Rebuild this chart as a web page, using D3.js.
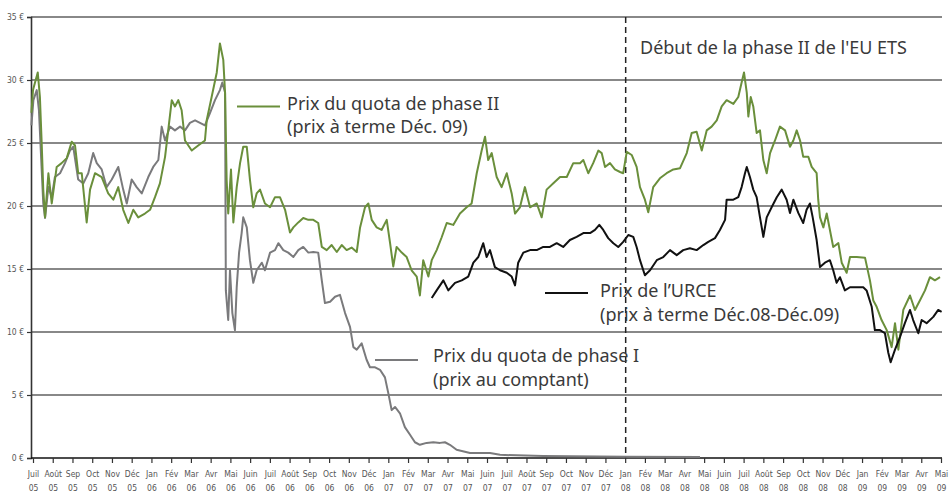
<!DOCTYPE html>
<html>
<head>
<meta charset="utf-8">
<script src="https://cdn.jsdelivr.net/npm/d3@7"></script>
<style>
  body { margin: 0; background: #fff; }
  .tick-label { font-family: "DejaVu Sans Condensed", "Liberation Sans Narrow", sans-serif; font-stretch: condensed; font-size: 8.5px; fill: #555; }
  .note { font-family: "Noto Sans", "Open Sans", sans-serif; font-size: 18px; fill: #3a3a3a; }
</style>
</head>
<body>
<div id="chart"></div>
<script>
// month labels, starting in July 2005 (x values below are months since 1 July 2005)
const monthNames = ['Juil', 'Août', 'Sep', 'Oct', 'Nov', 'Déc', 'Jan', 'Fév', 'Mar', 'Avr', 'Mai', 'Juin'];
const yearLabels = ['05', '06', '07', '08', '09'];
const priceTicks = [0, 5, 10, 15, 20, 25, 30, 35];

// Phase II allowance, Dec. 09 forward: [month, €]
const phase2 = [
  [-0.08, 27.4], [0, 29.2], [0.24, 30.6], [0.35, 28.65], [0.44, 25.0], [0.52, 21.3], [0.61, 19.1],
  [0.78, 22.6], [0.95, 20.2], [1.2, 23.1], [1.45, 23.4], [1.71, 23.8], [1.96, 25.1], [2.13, 24.8],
  [2.29, 22.6], [2.47, 22.6], [2.72, 18.7], [2.89, 21.3], [3.14, 22.6], [3.48, 22.3], [3.81, 21.0],
  [4.07, 20.5], [4.32, 21.5], [4.57, 19.7], [4.83, 18.65], [5.08, 19.7], [5.33, 19.1], [5.67, 19.4],
  [5.93, 19.7], [6.18, 20.7], [6.43, 21.8], [6.69, 23.9], [6.85, 26.0], [7.03, 28.4], [7.19, 27.9],
  [7.36, 28.4], [7.53, 27.6], [7.7, 25.2], [8.04, 24.4], [8.37, 24.8], [8.71, 25.2], [8.8, 26.8],
  [9.05, 28.65], [9.31, 30.6], [9.47, 32.9], [9.64, 31.6], [9.73, 29.0], [9.81, 22.1], [9.89, 19.4],
  [10.03, 22.9], [10.15, 18.7], [10.32, 21.5], [10.49, 23.4], [10.65, 24.7], [10.83, 24.7],
  [10.99, 22.1], [11.16, 19.9], [11.33, 21.0], [11.5, 21.3], [11.75, 20.2], [12.01, 19.9],
  [12.26, 20.7], [12.51, 20.7], [12.77, 19.7], [13.02, 17.9], [13.19, 18.3], [13.44, 18.7],
  [13.69, 19.05], [13.95, 18.9], [14.2, 18.9], [14.45, 18.65], [14.63, 16.75], [14.88, 16.5],
  [15.13, 16.9], [15.39, 16.35], [15.64, 16.9], [15.89, 16.5], [16.14, 16.7], [16.4, 16.35],
  [16.57, 18.3], [16.82, 19.9], [16.99, 20.2], [17.16, 18.9], [17.41, 18.3], [17.66, 18.1],
  [17.92, 18.9], [18.09, 17.05], [18.25, 15.2], [18.42, 16.75], [18.68, 16.3], [18.93, 15.95],
  [19.18, 14.9], [19.44, 14.4], [19.6, 12.9], [19.77, 15.7], [20.03, 14.4], [20.2, 15.7],
  [20.45, 16.5], [20.7, 17.5], [20.96, 18.65], [21.29, 18.5], [21.63, 19.4], [21.97, 19.9],
  [22.22, 20.2], [22.48, 22.6], [22.73, 24.4], [22.9, 25.5], [23.06, 23.65], [23.24, 24.2],
  [23.49, 22.3], [23.74, 21.5], [24.0, 22.6], [24.25, 21.0], [24.42, 19.4], [24.67, 19.9],
  [24.92, 21.5], [25.18, 19.9], [25.52, 20.2], [25.77, 19.1], [26.02, 21.3], [26.36, 21.8],
  [26.7, 22.3], [27.04, 22.3], [27.37, 23.4], [27.71, 23.4], [27.88, 23.65], [28.13, 22.6],
  [28.38, 23.4], [28.64, 24.4], [28.81, 24.2], [28.98, 23.1], [29.23, 23.4], [29.48, 22.9],
  [29.74, 22.7], [29.9, 22.6], [30.08, 24.3], [30.33, 24.05], [30.58, 23.1], [30.75, 21.5],
  [31.0, 20.5], [31.17, 19.5], [31.42, 21.5], [31.76, 22.2], [32.1, 22.6], [32.44, 22.9],
  [32.78, 23.0], [33.12, 24.2], [33.37, 25.8], [33.62, 25.9], [33.88, 24.4], [34.13, 26.0],
  [34.38, 26.3], [34.64, 26.8], [34.89, 27.9], [35.14, 28.4], [35.48, 28.1], [35.73, 28.65],
  [35.9, 29.8], [36.02, 30.6], [36.16, 29.0], [36.24, 27.1], [36.36, 28.65], [36.49, 27.9],
  [36.66, 25.8], [36.83, 26.0], [37.0, 23.65], [37.17, 22.6], [37.34, 24.2], [37.59, 25.2],
  [37.84, 26.3], [38.1, 26.0], [38.35, 24.7], [38.52, 25.2], [38.69, 26.0], [38.86, 25.2],
  [39.02, 23.9], [39.28, 23.9], [39.45, 23.1], [39.7, 22.6], [39.78, 20.5], [39.87, 19.1],
  [40.04, 18.3], [40.21, 19.4], [40.54, 16.75], [40.8, 17.05], [40.97, 15.5], [41.22, 14.7],
  [41.39, 15.95], [41.73, 15.95], [42.15, 15.9], [42.4, 14.1], [42.57, 12.5], [42.74, 12.0],
  [42.99, 10.95], [43.25, 10.15], [43.5, 8.8], [43.67, 10.7], [43.84, 8.6], [44.09, 11.75],
  [44.43, 12.9], [44.68, 11.75], [44.93, 12.5], [45.19, 13.3], [45.44, 14.35], [45.69, 14.1],
  [45.95, 14.35]
];

// CER, Dec.08-Dec.09 forward
const urce = [
  [20.2, 12.7], [20.45, 13.3], [20.79, 14.1], [21.04, 13.3], [21.38, 13.9], [21.72, 14.1],
  [22.05, 14.4], [22.31, 15.5], [22.56, 15.95], [22.81, 17.05], [22.98, 15.95], [23.15, 16.5],
  [23.4, 15.15], [23.66, 14.9], [24.0, 14.7], [24.25, 14.4], [24.42, 13.7], [24.58, 15.5],
  [24.84, 16.3], [25.18, 16.5], [25.52, 16.5], [25.85, 16.75], [26.19, 16.75], [26.53, 17.05],
  [26.86, 16.75], [27.2, 17.3], [27.54, 17.55], [27.88, 17.85], [28.22, 17.85], [28.47, 18.1],
  [28.69, 18.5], [28.89, 18.1], [29.14, 17.45], [29.4, 17.05], [29.65, 16.75], [29.9, 17.15],
  [30.16, 17.7], [30.41, 17.55], [30.58, 16.75], [30.75, 15.7], [31.0, 14.5], [31.26, 14.9],
  [31.6, 15.7], [31.93, 15.95], [32.27, 16.5], [32.61, 16.1], [32.94, 16.5], [33.28, 16.65],
  [33.62, 16.5], [33.96, 16.9], [34.21, 17.15], [34.55, 17.45], [34.8, 18.1], [35.06, 18.9],
  [35.14, 20.5], [35.48, 20.5], [35.73, 20.7], [35.9, 21.5], [36.07, 22.6], [36.16, 23.1],
  [36.32, 22.3], [36.49, 21.3], [36.66, 20.7], [36.83, 19.1], [37.0, 17.55], [37.17, 19.1],
  [37.42, 19.9], [37.68, 20.7], [37.93, 21.3], [38.18, 20.5], [38.35, 19.45], [38.52, 20.5],
  [38.77, 19.45], [39.02, 18.65], [39.19, 19.7], [39.36, 20.2], [39.5, 19.1], [39.7, 17.3],
  [39.87, 15.15], [40.12, 15.5], [40.37, 15.7], [40.54, 14.9], [40.71, 13.9], [40.88, 14.35],
  [41.13, 13.3], [41.39, 13.55], [41.73, 13.55], [42.06, 13.55], [42.23, 13.3], [42.49, 12.0],
  [42.65, 10.15], [42.91, 10.15], [43.16, 9.9], [43.33, 8.35], [43.45, 7.6], [43.67, 8.6],
  [43.92, 9.6], [44.17, 10.7], [44.43, 11.75], [44.59, 10.95], [44.85, 9.9], [45.02, 10.95],
  [45.27, 10.7], [45.61, 11.2], [45.86, 11.75], [46.03, 11.6]
];

// Phase I allowance, spot price
const phase1 = [
  [-0.08, 26.4], [0.02, 28.4], [0.19, 29.2], [0.3, 27.6], [0.41, 23.9], [0.52, 20.2], [0.61, 19.05],
  [0.78, 21.5], [0.95, 20.7], [1.11, 22.3], [1.37, 22.6], [1.62, 23.4], [1.87, 24.4], [2.04, 24.7],
  [2.29, 22.1], [2.55, 21.8], [2.8, 22.6], [3.05, 24.2], [3.23, 23.4], [3.48, 22.9], [3.73, 21.5],
  [3.99, 22.1], [4.32, 23.1], [4.57, 21.3], [4.75, 20.2], [5.0, 22.1], [5.25, 21.5], [5.51, 21.0],
  [5.84, 22.3], [6.09, 23.1], [6.35, 23.65], [6.52, 26.3], [6.69, 25.2], [6.94, 26.3], [7.19, 26.0],
  [7.45, 26.3], [7.7, 26.0], [7.95, 26.6], [8.21, 26.8], [8.46, 26.6], [8.71, 26.4], [8.97, 27.4],
  [9.22, 28.4], [9.47, 29.2], [9.59, 29.8], [9.73, 29.0], [9.77, 13.3], [9.89, 10.95], [9.98, 14.9],
  [10.1, 11.5], [10.23, 10.15], [10.32, 13.55], [10.44, 16.3], [10.57, 17.85], [10.65, 19.1],
  [10.83, 18.3], [10.99, 15.7], [11.16, 13.9], [11.33, 14.9], [11.59, 15.5], [11.75, 14.9],
  [12.01, 16.3], [12.26, 16.5], [12.43, 17.05], [12.68, 16.5], [12.93, 16.3], [13.19, 15.95],
  [13.44, 16.5], [13.69, 16.75], [13.95, 16.3], [14.2, 16.35], [14.45, 16.3], [14.63, 14.1],
  [14.79, 12.3], [15.05, 12.4], [15.3, 12.8], [15.55, 12.95], [15.81, 11.5], [16.06, 10.4],
  [16.23, 8.8], [16.4, 8.6], [16.65, 9.1], [16.9, 7.8], [17.07, 7.2], [17.33, 7.2], [17.58, 7.0],
  [17.83, 6.4], [18.0, 5.15], [18.17, 3.8], [18.34, 4.05], [18.59, 3.55], [18.84, 2.45], [19.1, 1.85],
  [19.35, 1.25], [19.6, 1.05], [19.94, 1.2], [20.28, 1.25], [20.62, 1.2], [20.87, 1.25], [21.12, 1.05],
  [21.46, 0.65], [22.14, 0.4], [23.15, 0.4], [23.66, 0.25], [25.84, 0.15], [30.09, 0.1], [33.79, 0.08]
];

// start of phase II, 1 January 2008
const phase2Start = 30;

function priceChart() {

    let margin = {top: 17, left: 31, right: 6, bottom: 40},
        width = 949,
        height = 498,
        innerRight = width - margin.right,
        innerBottom = height - margin.bottom,

        greenColor = '#6a8f3b',
        greyColor = '#7a7a7c',
        blackColor = '#111',
        gridColor = '#606060';

    // build the 47 month tick labels from the month and year lists
    let tickLabels = d3.range(47).map(i => ({
        month: monthNames[i % 12],
        year: yearLabels[Math.floor((i + 6) / 12)]
    }));

    let xScale = d3.scaleLinear()
            .domain([0, 46])
            .range([33, 941]),

        yScale = d3.scaleLinear()
            .domain([0, 35])
            .range([innerBottom, margin.top]),

        svg = d3.select('#chart')
            .append('svg')
            .attr('width', width)
            .attr('height', height);

    // horizontal grid lines
    svg.append('g')
        .selectAll('line')
        .data(priceTicks.filter(d => d > 0))
        .enter()
        .append('line')
        .attr('x1', margin.left)
        .attr('x2', innerRight - 1)
        .attr('y1', d => yScale(d))
        .attr('y2', d => yScale(d))
        .attr('stroke', gridColor)
        .attr('stroke-width', 1.6);

    // y axis
    let yAxis = svg.append('g')
        .attr('transform', `translate(${margin.left},0)`)
        .call(d3.axisLeft(yScale).tickValues(priceTicks).tickSize(4).tickFormat(d => d + ' €'));
    yAxis.attr('font-family', null).attr('font-size', null);
    yAxis.select('.domain').attr('stroke', '#333').attr('stroke-width', 1.6);
    yAxis.selectAll('.tick line').attr('stroke', '#333').attr('stroke-width', 1.2);
    yAxis.selectAll('.tick text')
        .attr('class', 'tick-label')
        .attr('x', -7);

    // x axis with two-line month labels
    let xAxis = svg.append('g')
        .attr('transform', `translate(0,${innerBottom})`)
        .call(d3.axisBottom(xScale).tickValues(d3.range(47)).tickSize(5).tickFormat(''));
    xAxis.attr('font-family', null).attr('font-size', null);
    xAxis.select('.domain')
        .attr('d', `M${margin.left},0H${innerRight - 1}`)
        .attr('stroke', '#111')
        .attr('stroke-width', 1.6);
    xAxis.selectAll('.tick line').attr('stroke', '#333').attr('stroke-width', 1.2);

    let xLabels = xAxis.selectAll('.tick text')
        .data(tickLabels)
        .attr('class', 'tick-label')
        .attr('y', 0)
        .attr('dy', null)
        .attr('text-anchor', 'middle');
    xLabels.append('tspan').attr('x', 0).attr('y', 19).text(d => d.month);
    xLabels.append('tspan').attr('x', 0).attr('y', 33).text(d => d.year);

    // dashed line for the start of phase II
    svg.append('line')
        .attr('x1', xScale(phase2Start) + 0.5)
        .attr('x2', xScale(phase2Start) + 0.5)
        .attr('y1', margin.top)
        .attr('y2', innerBottom)
        .attr('stroke', '#222')
        .attr('stroke-width', 1.5)
        .attr('stroke-dasharray', '6,4');

    svg.append('text')
        .classed('note', true)
        .attr('x', 640)
        .attr('y', 54)
        .text("Début de la phase II de l'EU ETS");

    // price lines
    let line = d3.line()
        .x(d => xScale(d[0]))
        .y(d => yScale(d[1]));

    let series = [
        {data: phase1, color: greyColor},
        {data: phase2, color: greenColor},
        {data: urce, color: blackColor}
    ];

    svg.selectAll('.price')
        .data(series)
        .enter()
        .append('path')
        .classed('price', true)
        .attr('d', d => line(d.data))
        .attr('fill', 'none')
        .attr('stroke', d => d.color)
        .attr('stroke-width', 2)
        .attr('stroke-linejoin', 'round');

    // inline legends: swatch position, text offset, baseline offsets
    let legends = [
        {color: greenColor, x: 237, y: 106.5, dx: 50, dy: [3.5, 26.5], lines: ['Prix du quota de phase II', '(prix à terme Déc. 09)']},
        {color: blackColor, x: 545, y: 293, dx: 55, dy: [3.5, 28], lines: ["Prix de l’URCE", '(prix à terme Déc.08-Déc.09)']},
        {color: greyColor, x: 375, y: 360, dx: 58, dy: [2, 25.5], lines: ['Prix du quota de phase I', '(prix au comptant)']}
    ];

    let legend = svg.selectAll('.legend')
        .data(legends)
        .enter()
        .append('g')
        .classed('legend', true)
        .attr('transform', d => `translate(${d.x},${d.y})`);

    legend.append('line')
        .attr('x1', 0)
        .attr('x2', 43)
        .attr('stroke', d => d.color)
        .attr('stroke-width', 2);

    legend.append('text')
        .classed('note', true)
        .selectAll('tspan')
        .data(d => d.lines.map((t, i) => ({t: t, x: d.dx, y: d.dy[i]})))
        .enter()
        .append('tspan')
        .attr('x', d => d.x)
        .attr('y', d => d.y)
        .text(d => d.t);

    return svg;
}

priceChart();
</script>
</body>
</html>
